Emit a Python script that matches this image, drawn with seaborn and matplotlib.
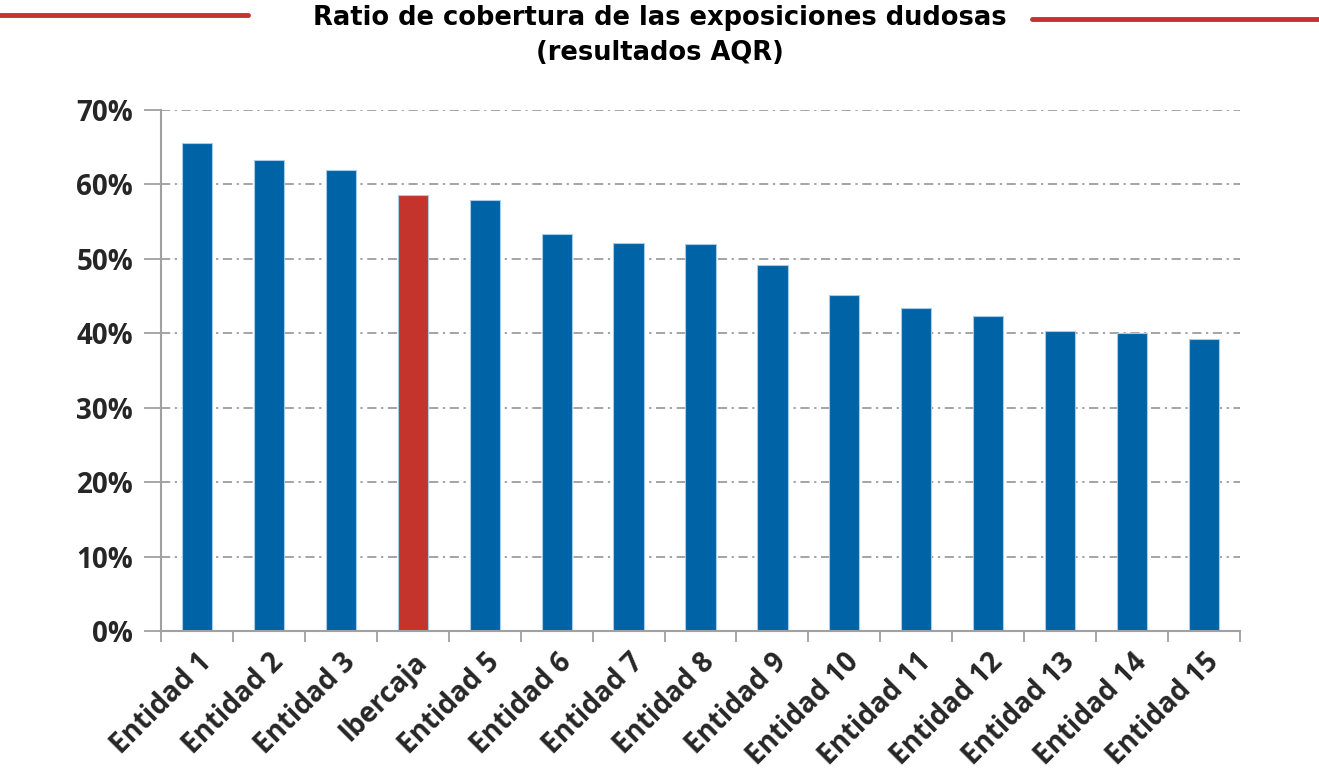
import numpy as np
import pandas as pd
import matplotlib
matplotlib.use('Agg')
import matplotlib.pyplot as plt
from matplotlib.ticker import PercentFormatter, FixedLocator
import seaborn as sns

# Datos del gráfico
entidades = ['Entidad 1', 'Entidad 2', 'Entidad 3', 'Ibercaja', 'Entidad 5',
             'Entidad 6', 'Entidad 7', 'Entidad 8', 'Entidad 9', 'Entidad 10',
             'Entidad 11', 'Entidad 12', 'Entidad 13', 'Entidad 14', 'Entidad 15']
ratio_cobertura = [65.6, 63.3, 61.9, 58.6, 57.9, 53.3, 52.1, 52.0, 49.2, 45.1,
                   43.4, 42.3, 40.3, 40.0, 39.2]
destacada = 'Ibercaja'

df = pd.DataFrame({'Entidad': entidades, 'Ratio': ratio_cobertura})
azul = '#0063A6'
rojo = '#C4342D'
colores = {e: (rojo if e == destacada else azul) for e in entidades}

sns.set_style('white')
plt.rcParams['font.family'] = ['DejaVu Sans']

fig = plt.figure(figsize=(13.19, 7.83), dpi=100)
ax = fig.add_axes([161 / 1319, 1 - 631 / 783, (1240 - 161) / 1319, (631 - 110) / 783])

sns.barplot(data=df, x='Entidad', y='Ratio', hue='Entidad', palette=colores,
            saturation=1, width=0.42, legend=False, ax=ax,
            edgecolor='#A8CCE8', linewidth=0.8)

ax.set_ylim(0, 70)
ax.set_xlim(-0.5, len(entidades) - 0.5)
ax.set_yticks(range(0, 71, 10))
ax.yaxis.set_major_formatter(PercentFormatter(decimals=0))
ax.yaxis.grid(True, linestyle=(0, (6, 3, 1.5, 3)), color='#8C8C8C', linewidth=1.1)
ax.set_axisbelow(True)

for s in ['top', 'right']:
    ax.spines[s].set_visible(False)
for s in ['left', 'bottom']:
    ax.spines[s].set_color('#A0A0A0')
    ax.spines[s].set_linewidth(1.5)

ax.set_xlabel('')
ax.set_ylabel('')
ax.tick_params(axis='y', length=12, width=1.3, color='#A0A0A0', labelsize=20, pad=8, left=True)
ax.tick_params(axis='x', which='major', length=0, labelsize=20, pad=12)
ax.xaxis.set_minor_locator(FixedLocator(np.arange(-0.5, len(entidades), 1.0)))
ax.tick_params(axis='x', which='minor', length=8, width=1.3, color='#A0A0A0', bottom=True)

for lbl in ax.get_yticklabels():
    lbl.set_fontweight('bold')
    lbl.set_family(['Open Sans', 'DejaVu Sans'])
for lbl in ax.get_xticklabels():
    lbl.set_rotation(45)
    lbl.set_ha('right')
    lbl.set_rotation_mode('anchor')
    lbl.set_fontweight('bold')
    lbl.set_family(['Open Sans', 'DejaVu Sans'])

# Título con líneas decorativas
fig.text(0.5, 1 - 5 / 783, 'Ratio de cobertura de las exposiciones dudosas\n(resultados AQR)',
         ha='center', va='top', fontsize=18.5, fontweight='bold', linespacing=1.45,
         color='black')
fig.add_artist(plt.Line2D([0, 248 / 1319], [1 - 15 / 783, 1 - 15 / 783],
                          color=rojo, linewidth=3.5, transform=fig.transFigure))
fig.add_artist(plt.Line2D([1032 / 1319, 1], [1 - 19 / 783, 1 - 19 / 783],
                          color=rojo, linewidth=3.5, transform=fig.transFigure))

fig.savefig('out.png', dpi=100)
